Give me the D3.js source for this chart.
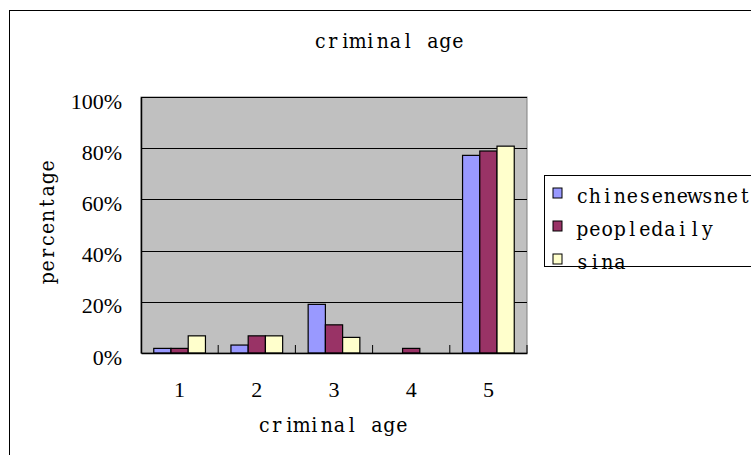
<!DOCTYPE html>
<meta charset="utf-8">
<style>
  body { margin: 0; background: #fff; }
  text { font-family: "Liberation Serif", serif; fill: #000; }
  text.mono { font-family: "DejaVu Serif Condensed", "DejaVu Serif", serif; font-stretch: condensed; }
</style>
<body>
<svg width="751" height="455"></svg>
<script src="https://d3js.org/d3.v7.min.js"></script>
<script>
  const categories = ["1", "2", "3", "4", "5"];
  const seriesNames = ["chinesenewsnet", "peopledaily", "sina"];
  const chinesenewsnet = [0.018, 0.031, 0.19, 0, 0.772];
  const peopledaily = [0.018, 0.067, 0.11, 0.018, 0.789];
  const sina = [0.067, 0.067, 0.061, 0, 0.808];
  const yTicks = [0, 0.2, 0.4, 0.6, 0.8, 1];
  const colors = ["#9999ff", "#993366", "#ffffcc"];

  const series = [chinesenewsnet, peopledaily, sina];
  const svg = d3.select("svg");
  const charW = 12.5; // half-width glyph advance of the original font

  // place each glyph centred in its own fixed-width cell, like the original monospaced font
  function mono(sel, x0, centred) {
    sel.each(function() {
      const t = d3.select(this);
      const s = t.text();
      const start = centred ? x0 - s.length * charW / 2 : x0;
      t.attr("class", "mono").attr("text-anchor", "middle")
       .attr("x", d3.range(s.length).map(i => (start + (i + 0.5) * charW).toFixed(1)).join(" "));
    });
  }

  // outer chart frame (runs off the right and bottom edges)
  svg.append("rect")
      .attr("x", 9.5).attr("y", 10.5)
      .attr("width", 800).attr("height", 500)
      .attr("fill", "none").attr("stroke", "#000");

  const plot = {left: 141, top: 97, right: 527, bottom: 353};

  const x = d3.scaleBand().domain(categories).range([plot.left, plot.right]);
  const x1 = d3.scaleBand().domain(seriesNames)
      .range([0, x.bandwidth()]).paddingInner(0).paddingOuter(0.74);
  const y = d3.scaleLinear().domain([0, 1]).range([plot.bottom, plot.top]);

  svg.append("rect")
      .attr("x", plot.left).attr("y", plot.top)
      .attr("width", plot.right - plot.left).attr("height", plot.bottom - plot.top)
      .attr("fill", "#c0c0c0").attr("stroke", "#808080");

  // gridlines
  svg.append("g")
    .selectAll("line")
    .data(yTicks.slice(1))
    .join("line")
      .attr("x1", plot.left).attr("x2", plot.right)
      .attr("y1", d => Math.round(y(d)) + 0.5).attr("y2", d => Math.round(y(d)) + 0.5)
      .attr("stroke", "#000").attr("stroke-width", 1);

  // bars
  const groups = svg.append("g")
    .selectAll("g")
    .data(categories)
    .join("g")
      .attr("transform", d => `translate(${x(d)},0)`);

  groups.selectAll("rect")
    .data((c, i) => seriesNames.map((s, j) => ({s, v: series[j][i], j})))
    .join("rect")
      .filter(d => d.v > 0)
      .attr("x", d => x1(d.s))
      .attr("y", d => y(d.v))
      .attr("width", x1.bandwidth())
      .attr("height", d => y(0) - y(d.v))
      .attr("fill", d => colors[d.j])
      .attr("stroke", "#000")
      .attr("stroke-width", 1.2);

  // y axis
  const yAxis = svg.append("g")
      .attr("transform", `translate(${plot.left},0)`)
      .call(d3.axisLeft(y).tickValues(yTicks).tickFormat(d3.format(".0%")).tickSize(0).tickPadding(19));
  yAxis.select(".domain").attr("stroke", "#000").attr("stroke-width", 1.5);
  yAxis.selectAll("text")
      .attr("font-size", 22).attr("font-family", "Liberation Serif").attr("dy", "0.5em");

  // x axis
  const xAxis = svg.append("g")
      .attr("transform", `translate(0,${plot.bottom})`)
      .call(d3.axisBottom(x).tickSize(0).tickPadding(33));
  xAxis.select(".domain").attr("stroke", "#000").attr("stroke-width", 1.5);
  xAxis.selectAll("text")
      .attr("font-size", 22).attr("font-family", "Liberation Serif").attr("dy", "0.5em");

  // category separators
  svg.append("g")
    .selectAll("line")
    .data(categories.slice(1).concat(["end"]))
    .join("line")
      .attr("x1", (d, i) => plot.left + (i + 1) * x.bandwidth())
      .attr("x2", (d, i) => plot.left + (i + 1) * x.bandwidth())
      .attr("y1", plot.bottom - 8).attr("y2", plot.bottom)
      .attr("stroke", "#000");

  svg.append("text")
      .attr("y", 48).attr("font-size", 21)
      .text("criminal age").call(mono, 389, true);

  svg.append("text")
      .attr("y", 432).attr("font-size", 21)
      .text("criminal age").call(mono, 333, true);

  svg.append("text")
      .attr("transform", "translate(54,0) rotate(-90)")
      .attr("y", 0).attr("font-size", 21)
      .text("percentage").call(mono, -222, true);

  // legend
  const legend = svg.append("g");
  legend.append("rect")
      .attr("x", 544.5).attr("y", 175.5)
      .attr("width", 260).attr("height", 91)
      .attr("fill", "#fff").attr("stroke", "#000");

  const items = legend.selectAll("g")
    .data(seriesNames)
    .join("g")
      .attr("transform", (d, i) => `translate(553,${188 + i * 33})`);
  items.append("rect")
      .attr("width", 9).attr("height", 10)
      .attr("fill", (d, i) => colors[i]).attr("stroke", "#000");
  items.append("text")
      .attr("y", 15)
      .attr("font-size", 21)
      .text(d => d).call(mono, 23, false);
</script>
</body>
